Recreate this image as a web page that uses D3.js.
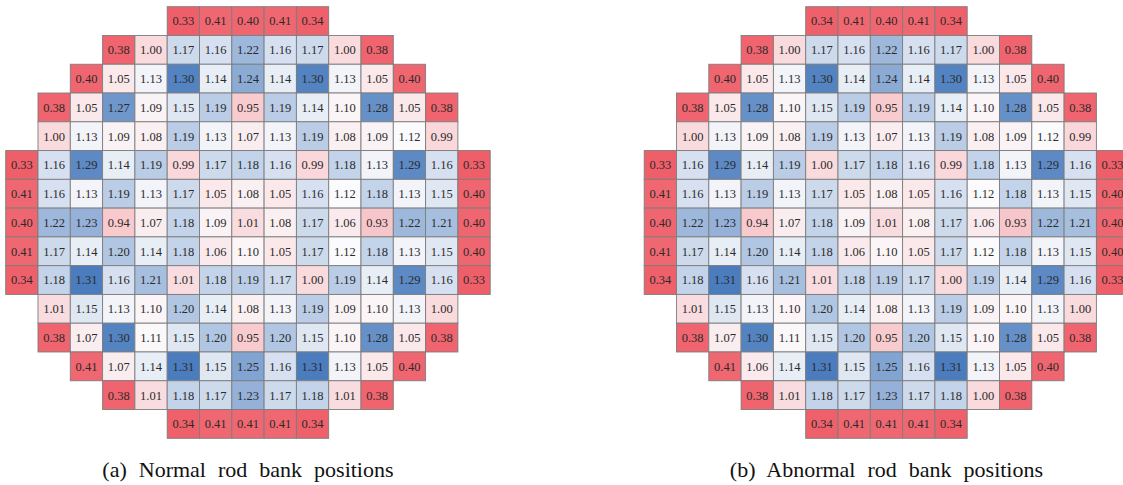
<!DOCTYPE html>
<html>
<head>
<meta charset="utf-8">
<script src="https://cdn.jsdelivr.net/npm/d3@7"></script>
<style>
  html, body { margin: 0; padding: 0; background: #fff; }
  svg { display: block; }
  .cell-label { font-family: "Liberation Serif", "Times New Roman", serif; font-size: 12.5px; fill: #2b2b2b; }
  .caption { font-family: "Liberation Serif", "Times New Roman", serif; font-size: 22px; fill: #111; word-spacing: 6.5px; }
</style>
</head>
<body>
<svg id="chart" width="1123" height="485"></svg>
<script>
// Relative assembly power maps, 15 x 15 core positions (null = outside the core)
const _ = null;

const normalRows = [
  [_, _, _, _, _, 0.33, 0.41, 0.40, 0.41, 0.34, _, _, _, _, _],
  [_, _, _, 0.38, 1.00, 1.17, 1.16, 1.22, 1.16, 1.17, 1.00, 0.38, _, _, _],
  [_, _, 0.40, 1.05, 1.13, 1.30, 1.14, 1.24, 1.14, 1.30, 1.13, 1.05, 0.40, _, _],
  [_, 0.38, 1.05, 1.27, 1.09, 1.15, 1.19, 0.95, 1.19, 1.14, 1.10, 1.28, 1.05, 0.38, _],
  [_, 1.00, 1.13, 1.09, 1.08, 1.19, 1.13, 1.07, 1.13, 1.19, 1.08, 1.09, 1.12, 0.99, _],
  [0.33, 1.16, 1.29, 1.14, 1.19, 0.99, 1.17, 1.18, 1.16, 0.99, 1.18, 1.13, 1.29, 1.16, 0.33],
  [0.41, 1.16, 1.13, 1.19, 1.13, 1.17, 1.05, 1.08, 1.05, 1.16, 1.12, 1.18, 1.13, 1.15, 0.40],
  [0.40, 1.22, 1.23, 0.94, 1.07, 1.18, 1.09, 1.01, 1.08, 1.17, 1.06, 0.93, 1.22, 1.21, 0.40],
  [0.41, 1.17, 1.14, 1.20, 1.14, 1.18, 1.06, 1.10, 1.05, 1.17, 1.12, 1.18, 1.13, 1.15, 0.40],
  [0.34, 1.18, 1.31, 1.16, 1.21, 1.01, 1.18, 1.19, 1.17, 1.00, 1.19, 1.14, 1.29, 1.16, 0.33],
  [_, 1.01, 1.15, 1.13, 1.10, 1.20, 1.14, 1.08, 1.13, 1.19, 1.09, 1.10, 1.13, 1.00, _],
  [_, 0.38, 1.07, 1.30, 1.11, 1.15, 1.20, 0.95, 1.20, 1.15, 1.10, 1.28, 1.05, 0.38, _],
  [_, _, 0.41, 1.07, 1.14, 1.31, 1.15, 1.25, 1.16, 1.31, 1.13, 1.05, 0.40, _, _],
  [_, _, _, 0.38, 1.01, 1.18, 1.17, 1.23, 1.17, 1.18, 1.01, 0.38, _, _, _],
  [_, _, _, _, _, 0.34, 0.41, 0.41, 0.41, 0.34, _, _, _, _, _]
];

const abnormalRows = [
  [_, _, _, _, _, 0.34, 0.41, 0.40, 0.41, 0.34, _, _, _, _, _],
  [_, _, _, 0.38, 1.00, 1.17, 1.16, 1.22, 1.16, 1.17, 1.00, 0.38, _, _, _],
  [_, _, 0.40, 1.05, 1.13, 1.30, 1.14, 1.24, 1.14, 1.30, 1.13, 1.05, 0.40, _, _],
  [_, 0.38, 1.05, 1.28, 1.10, 1.15, 1.19, 0.95, 1.19, 1.14, 1.10, 1.28, 1.05, 0.38, _],
  [_, 1.00, 1.13, 1.09, 1.08, 1.19, 1.13, 1.07, 1.13, 1.19, 1.08, 1.09, 1.12, 0.99, _],
  [0.33, 1.16, 1.29, 1.14, 1.19, 1.00, 1.17, 1.18, 1.16, 0.99, 1.18, 1.13, 1.29, 1.16, 0.33],
  [0.41, 1.16, 1.13, 1.19, 1.13, 1.17, 1.05, 1.08, 1.05, 1.16, 1.12, 1.18, 1.13, 1.15, 0.40],
  [0.40, 1.22, 1.23, 0.94, 1.07, 1.18, 1.09, 1.01, 1.08, 1.17, 1.06, 0.93, 1.22, 1.21, 0.40],
  [0.41, 1.17, 1.14, 1.20, 1.14, 1.18, 1.06, 1.10, 1.05, 1.17, 1.12, 1.18, 1.13, 1.15, 0.40],
  [0.34, 1.18, 1.31, 1.16, 1.21, 1.01, 1.18, 1.19, 1.17, 1.00, 1.19, 1.14, 1.29, 1.16, 0.33],
  [_, 1.01, 1.15, 1.13, 1.10, 1.20, 1.14, 1.08, 1.13, 1.19, 1.09, 1.10, 1.13, 1.00, _],
  [_, 0.38, 1.07, 1.30, 1.11, 1.15, 1.20, 0.95, 1.20, 1.15, 1.10, 1.28, 1.05, 0.38, _],
  [_, _, 0.41, 1.06, 1.14, 1.31, 1.15, 1.25, 1.16, 1.31, 1.13, 1.05, 0.40, _, _],
  [_, _, _, 0.38, 1.01, 1.18, 1.17, 1.23, 1.17, 1.18, 1.00, 0.38, _, _, _],
  [_, _, _, _, _, 0.34, 0.41, 0.41, 0.41, 0.34, _, _, _, _, _]
];

const captions = ["(a) Normal rod bank positions", "(b) Abnormal rod bank positions"];

const svg = d3.select("#chart");

const gridW = 484.5, gridH = 431.6;
const panelX = [5.7, 644.2];
const panelY = 6.7;

const idx = d3.range(15);
const x = d3.scaleBand().domain(idx).range([0, gridW]);
const y = d3.scaleBand().domain(idx).range([0, gridH]);

// Diverging red - white - blue colour map
const color = d3.scaleLinear()
  .domain([0.33, 0.70, 1.12, 1.31])
  .range(["#ee5f69", "#f3868c", "#fbfbfd", "#4a7cbe"])
  .interpolate(d3.interpolateRgb)
  .clamp(true);

function drawMap(rows, ox, caption) {
  const g = svg.append("g").attr("transform", `translate(${ox},${panelY})`);
  const cells = [];
  rows.forEach((row, r) => row.forEach((v, c) => { if (v !== null) cells.push({ r, c, v }); }));

  const cg = g.selectAll("g.cell").data(cells).join("g")
    .attr("class", "cell")
    .attr("transform", d => `translate(${x(d.c)},${y(d.r)})`);

  cg.append("rect")
    .attr("width", x.bandwidth())
    .attr("height", y.bandwidth())
    .attr("fill", d => color(d.v))
    .attr("stroke", "#7d7d7d")
    .attr("stroke-width", 0.9);

  cg.append("text")
    .attr("class", "cell-label")
    .attr("x", x.bandwidth() / 2)
    .attr("y", y.bandwidth() / 2)
    .attr("dy", "0.35em")
    .attr("text-anchor", "middle")
    .text(d => d3.format(".2f")(d.v));

  svg.append("text")
    .attr("class", "caption")
    .attr("x", ox + gridW / 2)
    .attr("y", 477)
    .attr("text-anchor", "middle")
    .text(caption);
}

drawMap(normalRows, panelX[0], captions[0]);
drawMap(abnormalRows, panelX[1], captions[1]);
</script>
</body>
</html>
